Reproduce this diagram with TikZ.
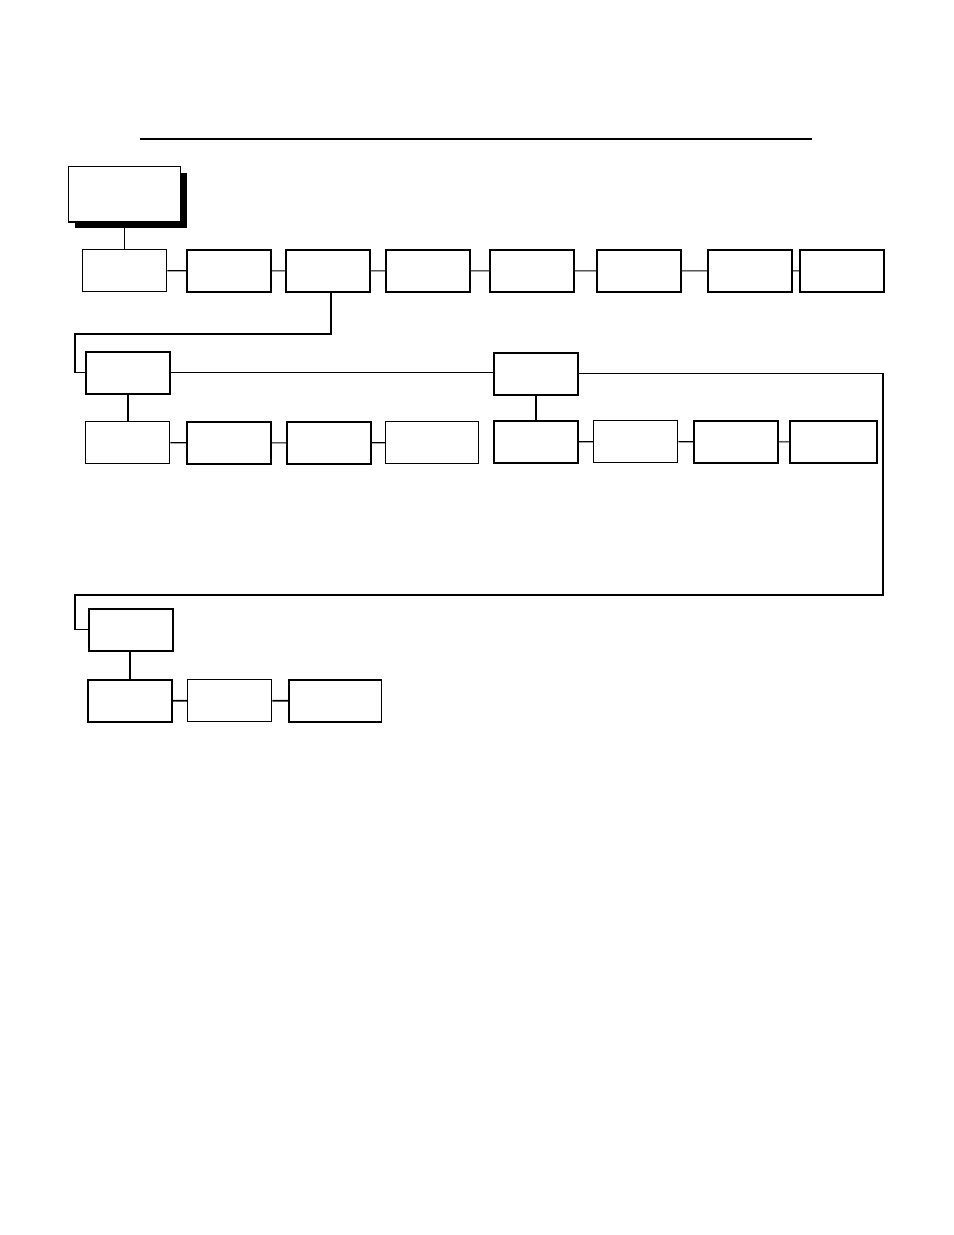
\documentclass[tikz,border=0pt]{standalone}
\usetikzlibrary{shadows}

\tikzset{
  box/.style={draw, line width=1.1pt, fill=white, anchor=north west,
    minimum width=54pt, minimum height=27pt, inner sep=0pt},
  thin box/.style={box, line width=0.8pt},
  wide/.style={minimum width=59.5pt},
  link/.style={line width=0.75pt},
}

\begin{document}
\begin{tikzpicture}[x=0.6415pt, y=-0.6415pt]
  \useasboundingbox (0,0) rectangle (954,1235);
  \draw[line width=0.9pt] (140,139) -- (812,139);
  % the root box with its shadow
  \node[thin box, minimum width=72pt, minimum height=35.5pt,
    drop shadow={fill=black, opacity=1, shadow xshift=4pt, shadow yshift=-4pt}]
    (root) at (68,166) {};
  % b1--b8 are the boxes on the first row
  \node[thin box] (b1) at (82,249) {};
  \node[box] (b2) at (186,249) {};
  \node[box] (b3) at (285,249) {};
  \node[box] (b4) at (385,249) {};
  \node[box] (b5) at (489,249) {};
  \node[box] (b6) at (596,249) {};
  \node[box] (b7) at (707,249) {};
  \node[box] (b8) at (799,249) {};
  % c1 and d1 head the second row, e1 heads the last one
  \node[box] (c1) at (85,351) {};
  \node[box] (d1) at (493,352) {};
  \node[box] (e1) at (88,608) {};
  \node[thin box] (c2) at (85,421) {};
  \node[box] (c3) at (186,421) {};
  \node[box] (c4) at (286,421) {};
  \node[thin box, wide] (c5) at (385,421) {};
  \node[box] (d2) at (493,420) {};
  \node[thin box] (d3) at (593,420) {};
  \node[box] (d4) at (693,420) {};
  \node[box, minimum width=56pt] (d5) at (789,420) {};
  \node[box] (e2) at (87,679) {};
  \node[thin box] (e3) at (187,679) {};
  \node[box, wide] (e4) at (288,679) {};
  \coordinate (k1) at (75,334);
  \coordinate (k2) at (883,595);
  \coordinate (k3) at (75,595);
  \draw[link] (root.south -| b1.north) -- (b1.north);
  \draw[link] (b1) -- (b2) (b2) -- (b3) (b3) -- (b4) (b4) -- (b5)
    (b5) -- (b6) (b6) -- (b7) (b7) -- (b8);
  \draw[link] (b3.south) ++(3,0) |- (k1) |- (c1.west);
  \draw[link] (c1.east) -- (c1.east -| d1.west);
  \draw[link] (d1.east) -| (k2) -- (k3) |- (e1.west);
  \draw[line width=1.1pt] (c1.south -| c2.north) -- (c2.north);
  \draw[link] (c2) -- (c3) (c3) -- (c4) (c4) -- (c5);
  \draw[link] (d1.south) -- (d2.north);
  \draw[link] (d2) -- (d3) (d3) -- (d4) (d4) -- (d5);
  \draw[link] (e1.south -| e2.north) -- (e2.north);
  \draw[line width=1.1pt] (e2) -- (e3) (e3) -- (e4);
\end{tikzpicture}
\end{document}
